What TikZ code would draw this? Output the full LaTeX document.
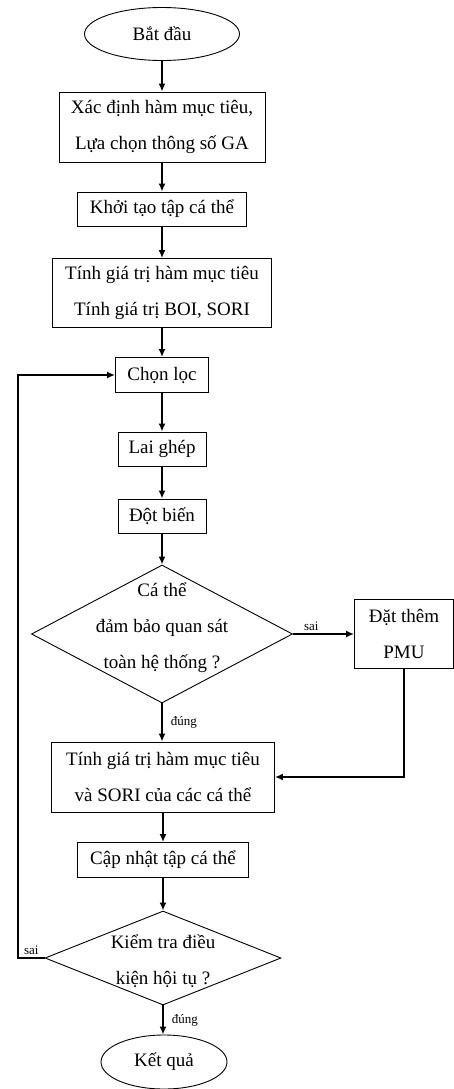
\documentclass[tikz,border=0pt]{standalone}
\usepackage{fontspec}
\setmainfont{Liberation Serif}
\usetikzlibrary{shapes.geometric,arrows.meta}

\tikzset{
  khoi/.style={draw, rectangle, line width=0.9pt, align=center, inner sep=0pt},
  thoi/.style={draw, diamond, line width=0.9pt, inner sep=0pt},
  bao/.style={draw, ellipse, line width=0.9pt, inner sep=0pt},
  mui/.style={draw, line width=1.8pt, -{Latex[length=8pt,width=7pt]}},
  nhan/.style={font=\fontsize{13}{15}\selectfont, inner sep=2pt}
}

\begin{document}
\begin{tikzpicture}[x=1pt,y=-1pt,font=\fontsize{19}{36}\selectfont]
\useasboundingbox (0,0) rectangle (454,1089);
\node[bao, minimum width=155pt, minimum height=53pt] (1) at (162,34) {Bắt đầu};
\node[khoi, minimum width=206pt, minimum height=70pt] (2) at (162,127) {Xác định hàm mục tiêu,\\Lựa chọn thông số GA};
\node[khoi, minimum width=169pt, minimum height=34pt] (3) at (162,209) {Khởi tạo tập cá thể};
\node[khoi, minimum width=219pt, minimum height=69pt] (4) at (162,293) {Tính giá trị hàm mục tiêu\\Tính giá trị BOI, SORI};
\node[khoi, minimum width=93pt, minimum height=35pt] (5) at (162,375) {Chọn lọc};
\node[khoi, minimum width=88pt, minimum height=34pt] (6) at (162,449) {Lai ghép};
\node[khoi, minimum width=88pt, minimum height=34pt] (7) at (162,516) {Đột biến};
\node[thoi, minimum width=261pt, minimum height=138pt,
  label={[align=center, yshift=6pt]center:Cá thể\\đảm bảo quan sát\\toàn hệ thống ?}] (8) at (162,634) {};
\node[khoi, minimum width=99pt, minimum height=69pt] (9) at (404,634) {Đặt thêm\\PMU};
\node[khoi, minimum width=223pt, minimum height=70pt] (10) at (163,777) {Tính giá trị hàm mục tiêu\\và SORI của các cá thể};
\node[khoi, minimum width=171pt, minimum height=35pt] (11) at (163,860) {Cập nhật tập cá thể};
\node[thoi, minimum width=236pt, minimum height=94pt,
  label={[align=center, yshift=-3pt]center:Kiểm tra điều\\kiện hội tụ ?}] (12) at (163,958) {};
\node[bao, minimum width=126pt, minimum height=54pt] (13) at (164,1062) {Kết quả};
\coordinate (vong) at (18,958);

\path[mui] (1) -- (2);
\path[mui] (2) -- (3);
\path[mui] (3) -- (4);
\path[mui] (4) -- (5);
\path[mui] (5) -- (6);
\path[mui] (6) -- (7);
\path[mui] (7) -- (8);
\path[mui] (8.east) -- node[nhan, pos=0.3, above] (s1) {sai} (9.west);
\path[mui] (8.south) -- node[nhan, right, xshift=6pt] (d1) {đúng} (8.south |- 10.north);
\path[mui] (9.south) |- (10.east);
\path[mui] (10) -- (11);
\path[mui] (11) -- (12);
\path[mui] (12.south) -- node[nhan, right, xshift=6pt] (d2) {đúng} (12.south |- 13.north);
\path[mui] (12.west) -- node[nhan, above] (s2) {sai} (vong) |- (5.west);
\end{tikzpicture}
\end{document}
